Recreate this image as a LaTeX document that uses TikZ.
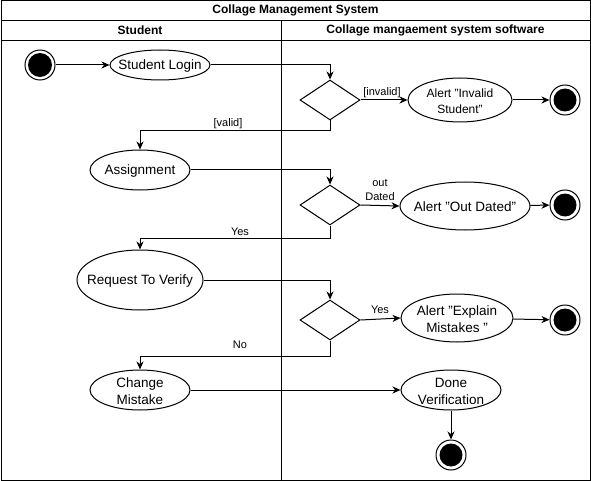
\documentclass[tikz,border=0pt]{standalone}
\usepackage{fontspec}
\setmainfont{Liberation Sans}
\usetikzlibrary{shapes.geometric,arrows.meta}
\begin{document}
\begin{tikzpicture}[x=1pt,y=-1pt,line width=1pt,
  act/.style 2 args={ellipse,draw,inner sep=0pt,minimum width=#1,minimum height=#2},
  dec/.style={diamond,draw,inner sep=0pt,minimum width=60pt,minimum height=40pt},
  fin/.style={circle,draw,inner sep=0pt,minimum size=30pt,
    path picture={\fill (path picture bounding box.center) circle (11.5pt);}},
  initst/.style={circle,draw,inner sep=0pt,minimum size=30pt,
    path picture={\fill (path picture bounding box.center) circle (12pt);}},
  arr/.style={-{Stealth[length=8pt,width=7pt,inset=2.5pt]}},
  lbl/.style={font=\fontsize{11}{13}\selectfont,inner sep=1pt,align=center},
  txt/.style={font=\fontsize{13.5}{17}\selectfont,align=center,inner sep=0pt,yshift=-1pt},
  txts/.style={font=\fontsize{12}{16}\selectfont,align=center,inner sep=0pt,yshift=-1pt},
  hdr/.style={font=\bfseries\fontsize{12}{14}\selectfont,inner sep=0pt}]
\useasboundingbox (0,0) rectangle (591,481);
% swimlane frame
\draw (1,1) rectangle (590,480);
\draw (1,20.5) -- (590,20.5);
\draw (1,40.5) -- (590,40.5);
\draw (281,20.5) -- (281,480);
\node[hdr] (title) at (295.5,10.5) {Collage Management System};
\node[hdr] (lane1) at (140,30.5) {Student};
\node[hdr] (lane2) at (435.5,30.5) {Collage mangaement system software};
% nodes
\node[initst] (start) at (40,65) {};
\node[act={100pt}{30pt}] (login) at (160,65) {};
\node[txt] (login-t) at (login) {Student Login};
\node[dec] (d1) at (330,100) {};
\node[act={104pt}{44pt}] (inv) at (460,100) {};
\node[txts] (inv-t) at (inv) {Alert "Invalid\\Student"};
\node[fin] (end1) at (565,100) {};
\node[act={100pt}{40pt}] (assign) at (140,170) {};
\node[txt] (assign-t) at (assign) {Assignment};
\node[dec] (d2) at (330,205) {};
\node[act={130pt}{48pt}] (outd) at (465,206) {};
\node[txt] (outd-t) at (outd) {Alert "Out Dated"};
\node[fin] (end2) at (565,205) {};
\node[act={126pt}{60pt}] (req) at (140,280) {};
\node[txt] (req-t) at (req) {Request To Verify};
\node[dec] (d3) at (330,320) {};
\node[act={112pt}{48pt}] (expl) at (457,318) {};
\node[txt] (expl-t) at (expl) {Alert "Explain\\Mistakes "};
\node[fin] (end3) at (565,320) {};
\node[act={100pt}{40pt}] (change) at (140,390) {};
\node[txt] (change-t) at (change) {Change\\Mistake};
\node[act={100pt}{40pt}] (done) at (451,390) {};
\node[txt] (done-t) at (done) {Done\\Verification};
\node[fin] (end4) at (451,455) {};
% edges
\draw[arr] (start) -- (login);
\draw[arr] (login.east) -| (d1.north);
\draw[arr] (d1.east) -- (inv.west);
\draw[arr] (inv) -- (end1);
\draw[arr] (d1.south) -- ++(0,10) -| (assign.north);
\draw[arr] (assign.east) -| (d2.north);
\draw[arr] (d2.east) -- (outd.west);
\draw[arr] (outd) -- (end2);
\draw[arr] (d2.south) -- ++(0,13) -| (req.north);
\draw[arr] (req.east) -| (d3.north);
\draw[arr] (d3.east) -- (expl.west);
\draw[arr] (expl) -- (end3);
\draw[arr] (d3.south) -- ++(0,16) -| (change.north);
\draw[arr] (change) -- (done);
\draw[arr] (done) -- (end4);
% labels
\node[lbl] (l-valid) at (228,124) {[valid]};
\node[lbl] (l-invalid) at (382,93) {[invalid]};
\node[lbl,font=\fontsize{11}{14}\selectfont] (l-out) at (380,190) {out\\Dated};
\node[lbl] (l-yes1) at (240,232) {Yes};
\node[lbl] (l-yes2) at (380,310) {Yes};
\node[lbl] (l-no) at (240,345) {No};
\end{tikzpicture}
\end{document}
